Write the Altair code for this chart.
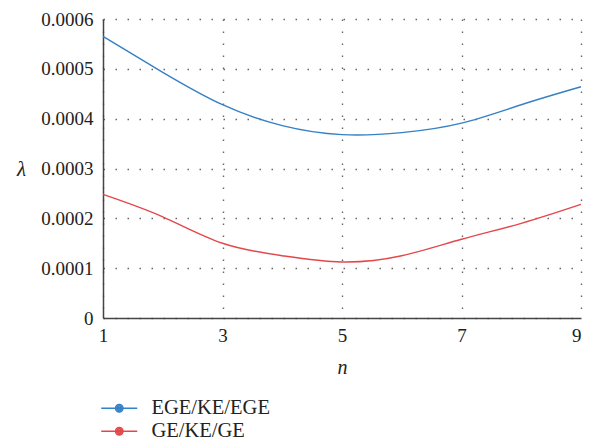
import altair as alt
import pandas as pd

n_values = [1, 2, 3, 4, 5, 6, 7, 8, 9]
ege_ke_ege = [0.000565, 0.000493, 0.000428, 0.000386, 0.000368, 0.000372, 0.000391, 0.000428, 0.000464]
ge_ke_ge = [0.000248, 0.000203, 0.000150, 0.000125, 0.0001125, 0.000125, 0.000158, 0.000190, 0.000228]
series_names = ["EGE/KE/EGE", "GE/KE/GE"]
x_ticks = [1, 3, 5, 7, 9]
y_ticks = [0, 0.0001, 0.0002, 0.0003, 0.0004, 0.0005, 0.0006]

rows = []
for name, vals in zip(series_names, [ege_ke_ege, ge_ke_ge]):
    for n, v in zip(n_values, vals):
        rows.append({"n": n, "lam": v, "series": name})
df = pd.DataFrame(rows)

FONT = "'Liberation Serif', 'Times New Roman', 'DejaVu Serif', serif"
sym_path = (
    "M-2,0H2"
    "M-0.42,0a0.42,0.42 0 1,0 0.84,0a0.42,0.42 0 1,0 -0.84,0"
    "M-0.26,0a0.26,0.26 0 1,0 0.52,0a0.26,0.26 0 1,0 -0.52,0"
    "M-0.1,0a0.1,0.1 0 1,0 0.2,0a0.1,0.1 0 1,0 -0.2,0"
)

chart = alt.Chart(df).mark_line(interpolate="natural", strokeWidth=1.4).encode(
    x=alt.X(
        "n:Q",
        scale=alt.Scale(domain=[1, 9], nice=False, zero=False),
        axis=alt.Axis(
            values=x_ticks, title="n", titleFont=FONT, titleFontStyle="italic",
            titleFontWeight="normal", titleFontSize=20, titleColor="#222",
            titleX=239, titleY=49, titleBaseline="middle", titleAlign="center",
            labelFont=FONT, labelFontSize=19, labelColor="#222", labelPadding=8,
            labelAlign={"condition": {"test": "datum.value == 9", "value": "right"}, "value": "center"},
            ticks=False, domainColor="#444", domainWidth=1.5,
            gridColor="#666", gridWidth=1.4, gridDash=[1.5, 10.5],
            labelFlush=False,
        ),
    ),
    y=alt.Y(
        "lam:Q",
        scale=alt.Scale(domain=[0, 0.0006], nice=False),
        axis=alt.Axis(
            values=y_ticks, format=".4~f", title="λ", titleAngle=0,
            titleFont=FONT, titleFontStyle="italic", titleFontWeight="normal",
            titleFontSize=21, titleColor="#222", titleX=-82, titleY=150,
            titleAlign="center", titleBaseline="middle",
            labelFont=FONT, labelFontSize=19, labelColor="#222", labelPadding=10,
            ticks=False, domainColor="#444", domainWidth=1.5,
            gridColor="#666", gridWidth=1.4, gridDash=[1.5, 10.5],
        ),
    ),
    color=alt.Color(
        "series:N",
        scale=alt.Scale(domain=series_names, range=["#3481c5", "#e4474a"]),
        legend=alt.Legend(
            title=None, orient="none", legendX=6, legendY=379,
            direction="vertical", symbolType=sym_path, symbolSize=324,
            symbolStrokeWidth=1.4, labelFont=FONT, labelFontSize=20.5,
            labelColor="#222", labelOffset=22, rowPadding=2,
        ),
    ),
).properties(
    width=478,
    height=299,
    autosize=alt.AutoSizeParams(type="none"),
    padding={"left": 95, "top": 11, "right": 2, "bottom": 122},
).configure_view(stroke=None)

chart.save("out.html", embed_options={"renderer": "svg", "actions": False})
